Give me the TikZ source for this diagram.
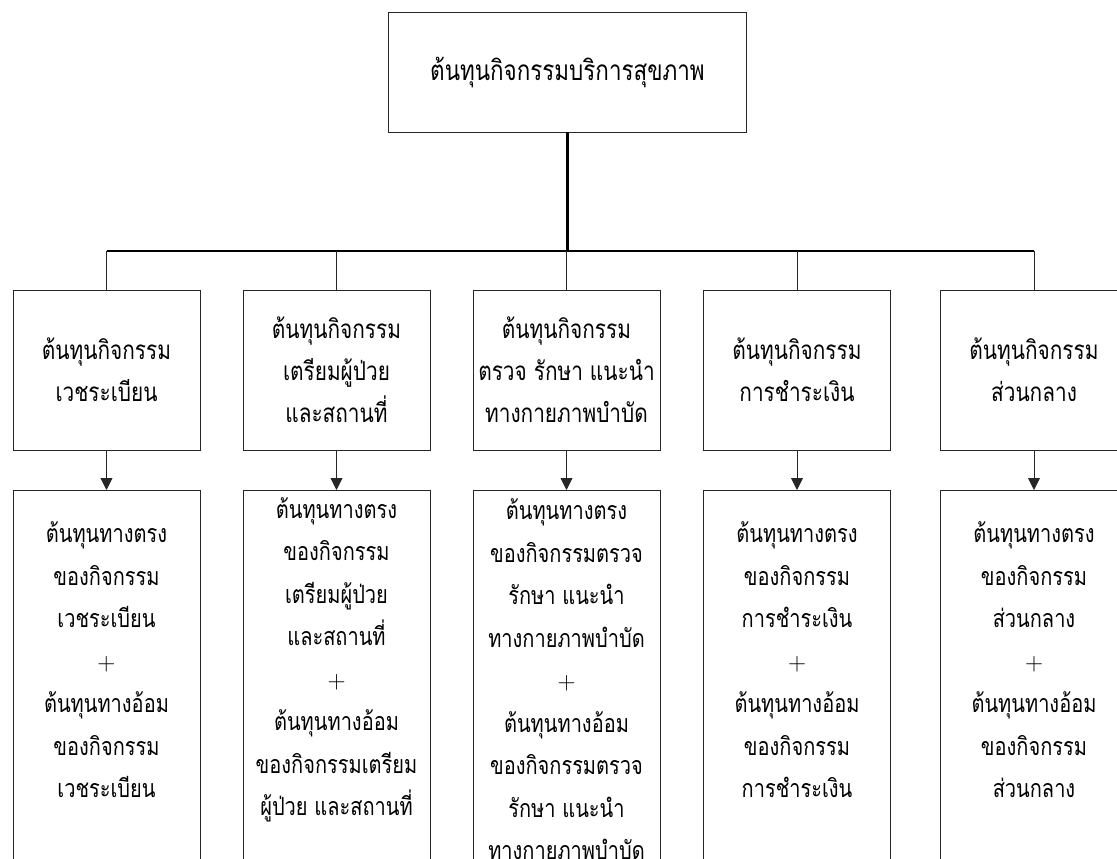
\documentclass[tikz,border=0pt]{standalone}
\usepackage{fontspec}
\newfontfamily\thaifont[Script=Thai,FakeStretch=0.8]{Loma}
\usetikzlibrary{arrows.meta}
% thin plus sign between the direct and indirect cost lines
\newcommand{\costplus}{{\rmfamily +}}
\begin{document}
\begin{tikzpicture}[x=1pt,y=-1pt,
  box/.style={draw=black!85, line width=0.9pt, rectangle, inner sep=0pt},
  rootbox/.style={box, minimum width=358pt, minimum height=120pt,
    font=\thaifont\fontsize{28}{34}\selectfont},
  midbox/.style={box, minimum width=187pt, minimum height=160pt, align=center,
    font=\thaifont\fontsize{26}{42}\selectfont},
  lowbox/.style={box, minimum width=187pt, minimum height=420pt, anchor=north},
  lowtext/.style={align=center, inner sep=0pt,
    font=\thaifont\fontsize{25}{42.5}\selectfont},
  link/.style={draw=black!85, line width=0.9pt},
  busline/.style={draw=black, line width=1.2pt},
  stem/.style={draw=black, line width=2.4pt},
  arrowlink/.style={link, -{Triangle[width=12pt,length=12pt]}},
]
\useasboundingbox (0,0) rectangle (1117,859);
\clip (0,0) rectangle (1117,859);

% top level
\node[rootbox] (root) at (567.5,72) {ต้นทุนกิจกรรมบริการสุขภาพ};
\coordinate (bus) at (567.5,251);

% activity centres
\node[midbox] (a1) at (106.5,370) {ต้นทุนกิจกรรม\\เวชระเบียน};
\node[midbox] (a2) at (336.5,370) {ต้นทุนกิจกรรม\\เตรียมผู้ป่วย\\และสถานที่};
\node[midbox] (a3) at (566.5,370) {ต้นทุนกิจกรรม\\ตรวจ รักษา แนะนำ\\ทางกายภาพบำบัด};
\node[midbox] (a4) at (797,370) {ต้นทุนกิจกรรม\\การชำระเงิน};
\node[midbox] (a5) at (1034,370) {ต้นทุนกิจกรรม\\ส่วนกลาง};

% cost build-up boxes
\node[lowbox] (d1) at (106.5,490) {};
\node[lowbox] (d2) at (336.5,490) {};
\node[lowbox] (d3) at (566.5,490) {};
\node[lowbox] (d4) at (797,490) {};
\node[lowbox] (d5) at (1034,490) {};

\node[lowtext] (t1) at (106.5,660) {ต้นทุนทางตรง\\ของกิจกรรม\\เวชระเบียน\\\costplus\\ต้นทุนทางอ้อม\\ของกิจกรรม\\เวชระเบียน};
\node[lowtext] (t2) at (336.5,660) {ต้นทุนทางตรง\\ของกิจกรรม\\เตรียมผู้ป่วย\\และสถานที่\\\costplus\\ต้นทุนทางอ้อม\\ของกิจกรรมเตรียม\\ผู้ป่วย และสถานที่};
\node[lowtext] (t3) at (566.5,722) {ต้นทุนทางตรง\\ของกิจกรรมตรวจ\\รักษา แนะนำ\\ทางกายภาพบำบัด\\\costplus\\ต้นทุนทางอ้อม\\ของกิจกรรมตรวจ\\รักษา แนะนำ\\ทางกายภาพบำบัด\\ \\ };
\node[lowtext] (t4) at (797,660) {ต้นทุนทางตรง\\ของกิจกรรม\\การชำระเงิน\\\costplus\\ต้นทุนทางอ้อม\\ของกิจกรรม\\การชำระเงิน};
\node[lowtext] (t5) at (1034,660) {ต้นทุนทางตรง\\ของกิจกรรม\\ส่วนกลาง\\\costplus\\ต้นทุนทางอ้อม\\ของกิจกรรม\\ส่วนกลาง};

% connectors
\draw[stem] (root.south) -- (bus);
\draw[busline] (a1.north |- bus) -- (a5.north |- bus);
\foreach \i in {1,...,5} {
  \draw[link] (a\i.north |- bus) -- (a\i.north);
  \draw[arrowlink] (a\i.south) -- (d\i.north);
}
\end{tikzpicture}
\end{document}
